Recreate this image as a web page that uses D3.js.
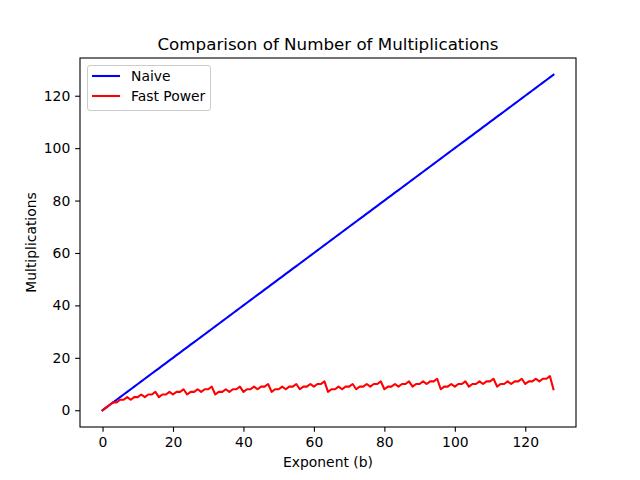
<!DOCTYPE html>
<html><head><meta charset="utf-8">
<script src="https://cdn.jsdelivr.net/npm/d3@7"></script>
<style>body{margin:0;background:#fff}svg{display:block;font-family:"DejaVu Sans",sans-serif}</style>
</head><body><svg id="c" width="640" height="480"></svg>
<script>
const exponents = [0,1,2,3,4,5,6,7,8,9,10,11,12,13,14,15,16,17,18,19,20,21,22,23,24,25,26,27,28,29,30,31,32,33,34,35,36,37,38,39,40,41,42,43,44,45,46,47,48,49,50,51,52,53,54,55,56,57,58,59,60,61,62,63,64,65,66,67,68,69,70,71,72,73,74,75,76,77,78,79,80,81,82,83,84,85,86,87,88,89,90,91,92,93,94,95,96,97,98,99,100,101,102,103,104,105,106,107,108,109,110,111,112,113,114,115,116,117,118,119,120,121,122,123,124,125,126,127,128];
const naive = [0,1,2,3,4,5,6,7,8,9,10,11,12,13,14,15,16,17,18,19,20,21,22,23,24,25,26,27,28,29,30,31,32,33,34,35,36,37,38,39,40,41,42,43,44,45,46,47,48,49,50,51,52,53,54,55,56,57,58,59,60,61,62,63,64,65,66,67,68,69,70,71,72,73,74,75,76,77,78,79,80,81,82,83,84,85,86,87,88,89,90,91,92,93,94,95,96,97,98,99,100,101,102,103,104,105,106,107,108,109,110,111,112,113,114,115,116,117,118,119,120,121,122,123,124,125,126,127,128];
const fastPower = [0,1,2,3,3,4,4,5,4,5,5,6,5,6,6,7,
 5,6,6,7,6,7,7,8,6,7,7,8,7,8,8,9,
 6,7,7,8,7,8,8,9,7,8,8,9,8,9,9,10,7,8,8,9,8,9,9,10,8,9,9,10,9,10,10,11,
 7,8,8,9,8,9,9,10,8,9,9,10,9,10,10,11,8,9,9,10,9,10,10,11,9,10,10,11,10,11,11,12,
 8,9,9,10,9,10,10,11,9,10,10,11,10,11,11,12,9,10,10,11,10,11,11,12,10,11,11,12,11,12,12,13,
 8];
const xTicks = [0,20,40,60,80,100,120];
const yTicks = [0,20,40,60,80,100,120];
const seriesNames = ["Naive","Fast Power"];
const seriesColors = ["#0000ff","#ff0000"];

const svg = d3.select("#c");
const L=80,R=576,T=58,B=427;
const x = d3.scaleLinear().domain([-6.4,134.4]).range([L,R]);
const y = d3.scaleLinear().domain([-6.4,134.4]).range([B,T]);

const g = svg.append("g");
const line = d3.line().x(d=>x(d[0])).y(d=>y(d[1]));
[naive, fastPower].forEach((s,i)=>{
  g.append("path").datum(exponents.map((e,j)=>[e,s[j]]))
   .attr("d",line).attr("fill","none").attr("stroke",seriesColors[i])
   .attr("stroke-width",2.08).attr("stroke-linejoin","round").attr("stroke-linecap","square");
});

const xa = svg.append("g").attr("transform",`translate(0,${B})`)
  .call(d3.axisBottom(x).tickValues(xTicks).tickSize(4.86).tickPadding(4.9).tickFormat(d3.format("d")));
const ya = svg.append("g").attr("transform",`translate(${L},0)`)
  .call(d3.axisLeft(y).tickValues(yTicks).tickSize(4.86).tickPadding(4.9).tickFormat(d3.format("d")));
[xa,ya].forEach(a=>{
  a.select(".domain").remove();
  a.selectAll(".tick line").attr("stroke","#000").attr("stroke-width",1.1);
  a.selectAll(".tick text").attr("fill","#000").style("font-size","13.9px").style("font-family","DejaVu Sans");
});
svg.append("rect").attr("x",L).attr("y",T).attr("width",R-L).attr("height",B-T)
  .attr("fill","none").attr("stroke","#000").attr("stroke-width",1.1);

svg.append("text").attr("x",(L+R)/2).attr("y",49.5).attr("text-anchor","middle")
  .style("font-size","16.7px").text("Comparison of Number of Multiplications");
svg.append("text").attr("x",(L+R)/2).attr("y",467).attr("text-anchor","middle")
  .style("font-size","13.9px").text("Exponent (b)");
svg.append("text").attr("transform",`translate(35.5,${(T+B)/2}) rotate(-90)`).attr("text-anchor","middle")
  .style("font-size","13.9px").text("Multiplications");

const lg = svg.append("g");
lg.append("rect").attr("x",87.5).attr("y",65.5).attr("width",123).attr("height",45).attr("rx",2.5)
  .attr("fill","#fff").attr("fill-opacity",0.8).attr("stroke","#cccccc").attr("stroke-width",1);
seriesNames.forEach((n,i)=>{
  const yy = 76 + i*20;
  lg.append("line").attr("x1",92).attr("x2",120).attr("y1",yy).attr("y2",yy)
    .attr("stroke",seriesColors[i]).attr("stroke-width",2.08);
  lg.append("text").attr("x",131).attr("y",yy+5).style("font-size","13.9px").text(n);
});
</script></body></html>
